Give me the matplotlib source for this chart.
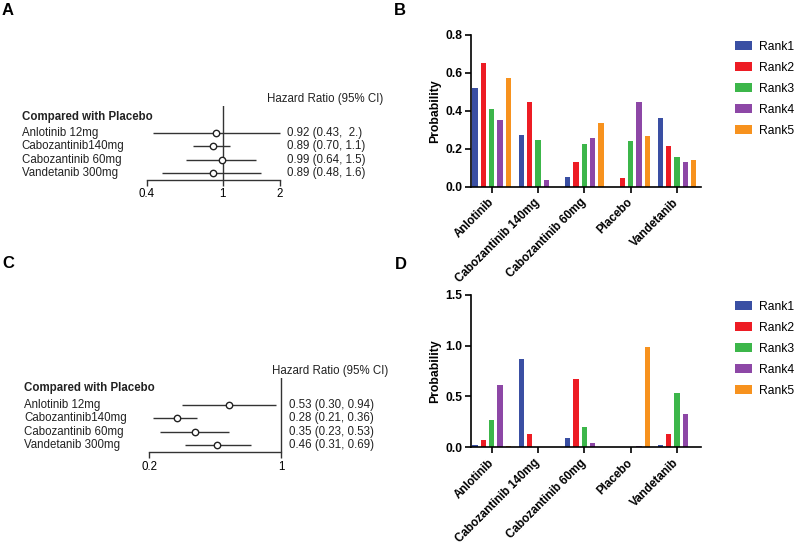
import matplotlib
matplotlib.use("Agg")
import matplotlib.pyplot as plt
import matplotlib.transforms as mtransforms
import numpy as np
from matplotlib.ticker import NullLocator, FixedLocator, FixedFormatter

plt.rcParams['font.family'] = ['Liberation Sans', 'DejaVu Sans']

# ---------------- data ----------------
forest_labels = ['Anlotinib 12mg', 'Cabozantinib140mg', 'Cabozantinib 60mg', 'Vandetanib 300mg']
a_hr = [0.92, 0.89, 0.99, 0.89]
a_lo = [0.43, 0.70, 0.64, 0.48]
a_hi = [2.0, 1.1, 1.5, 1.6]
a_txt = ['0.92 (0.43,  2.)', '0.89 (0.70, 1.1)', '0.99 (0.64, 1.5)', '0.89 (0.48, 1.6)']
a_ticks = [0.4, 1, 2]
a_ticklabels = ['0.4', '1', '2']

c_hr = [0.53, 0.28, 0.35, 0.46]
c_lo = [0.30, 0.21, 0.23, 0.31]
c_hi = [0.94, 0.36, 0.53, 0.69]
c_txt = ['0.53 (0.30, 0.94)', '0.28 (0.21, 0.36)', '0.35 (0.23, 0.53)', '0.46 (0.31, 0.69)']
c_ticks = [0.2, 1]
c_ticklabels = ['0.2', '1']

categories = ['Anlotinib', 'Cabozantinib 140mg', 'Cabozantinib 60mg', 'Placebo', 'Vandetanib']
rank_names = ['Rank1', 'Rank2', 'Rank3', 'Rank4', 'Rank5']
b_rank1 = [0.519, 0.270, 0.049, 0.0, 0.361]
b_rank2 = [0.653, 0.444, 0.130, 0.044, 0.214]
b_rank3 = [0.407, 0.244, 0.225, 0.239, 0.156]
b_rank4 = [0.353, 0.037, 0.258, 0.446, 0.128]
b_rank5 = [0.570, 0.0, 0.335, 0.267, 0.139]

d_rank1 = [0.020, 0.865, 0.088, 0.0, 0.020]
d_rank2 = [0.075, 0.128, 0.668, 0.0, 0.128]
d_rank3 = [0.265, 0.0, 0.200, 0.0, 0.530]
d_rank4 = [0.616, 0.0, 0.046, 0.013, 0.324]
d_rank5 = [0.013, 0.0, 0.0, 0.986, 0.0]

colors = ['#3a4fa3', '#ed1c24', '#3cb64a', '#8d47a6', '#f7921e']

W, H = 800, 545
fig = plt.figure(figsize=(8, 5.45), dpi=100)


def px_axes(x0, y0, x1, y1):
    return fig.add_axes([x0 / W, (H - y1) / H, (x1 - x0) / W, (y1 - y0) / H])


def forest(x_one, px_per_ln, y_top, y_axis, row0, rowstep, hr, lo, hi, txt,
           ticks, ticklabels, label_x, txt_x, head_x, head_y, comp_y):
    ax = px_axes(0, y_top, 400, y_axis)
    ax.set_xscale('log')
    ax.set_xlim(np.exp(-x_one / px_per_ln), np.exp((400 - x_one) / px_per_ln))
    ax.set_ylim((y_axis - row0) / rowstep, (y_top - row0) / rowstep)
    for s in ['top', 'right', 'left']:
        ax.spines[s].set_visible(False)
    ax.spines['bottom'].set_bounds(ticks[0], ticks[-1])
    ax.spines['bottom'].set_linewidth(1.0)
    ax.spines['bottom'].set_color('#333333')
    ax.xaxis.set_minor_locator(NullLocator())
    ax.xaxis.set_major_locator(FixedLocator(ticks))
    ax.xaxis.set_major_formatter(FixedFormatter(ticklabels))
    ax.tick_params(axis='x', direction='out', length=4, width=1.0, color='#333333',
                   labelsize=8.3, pad=2)
    ax.set_yticks([])
    ax.axvline(1, color='#333333', lw=1.0)
    ax.patch.set_visible(False)
    rows = np.arange(len(hr))
    ax.hlines(rows, lo, hi, color='#333333', lw=1.0)
    ax.plot(hr, rows, 'o', ms=4.6, mfc='white', mec='#222222', mew=1.0)
    bt = mtransforms.blended_transform_factory(ax.transAxes, ax.transData)
    for r, (lab, t) in enumerate(zip(forest_labels, txt)):
        ax.text(label_x / 400, r, lab, transform=bt,
                ha='left', va='center', fontsize=8.3, color='#222222')
        ax.text(txt_x / 400, r, t, transform=bt,
                ha='left', va='center', fontsize=8.3, color='#222222')
    ax.text(label_x / 400, (comp_y - row0) / rowstep, 'Compared with Placebo', transform=bt,
            ha='left', va='center', fontsize=8.3, fontweight='bold', color='#222222', clip_on=False)
    ax.text(head_x / 400, (head_y - row0) / rowstep, 'Hazard Ratio (95% CI)', transform=bt,
            ha='left', va='center', fontsize=8.3, color='#222222', clip_on=False)
    return ax


forest(222.5, 82.5, 106, 180, 132.7, 13.55, a_hr, a_lo, a_hi, a_txt,
       a_ticks, a_ticklabels, 21.7, 287, 266.7, 99.3, 116.7)
forest(281, 82.0, 378, 452.3, 405, 13.4, c_hr, c_lo, c_hi, c_txt,
       c_ticks, c_ticklabels, 24, 288.7, 272, 371, 388.3)


def bars(y0, y1, series, ymax, yticks, ytl, leg_y):
    ax = px_axes(470.7, y0, 701, y1)
    x = np.arange(len(categories))
    pitch, width = 0.18, 0.115
    for i, (vals, col, name) in enumerate(zip(series, colors, rank_names)):
        ax.bar(x + (i - 2) * pitch, vals, width=width, color=col, label=name)
    ax.set_xlim(-0.454, 4.52)
    ax.set_ylim(0, ymax)
    ax.set_yticks(yticks)
    ax.set_yticklabels(ytl, fontweight='bold', fontsize=8.7)
    ax.set_xticks(x)
    ax.set_xticklabels(categories, rotation=45, ha='right', va='center',
                       rotation_mode='anchor', fontweight='bold', fontsize=8.4)
    for s in ['top', 'right']:
        ax.spines[s].set_visible(False)
    for s in ['left', 'bottom']:
        ax.spines[s].set_linewidth(1.2)
    ax.tick_params(axis='both', direction='out', length=4, width=1.2, pad=2)
    ax.tick_params(axis='x', pad=6)
    ax.set_ylabel('Probability', fontweight='bold', fontsize=8.8, labelpad=3)
    ax.legend(loc='upper left', bbox_to_anchor=(730 / W, 1 - (leg_y - 9) / H),
              bbox_transform=fig.transFigure,
              frameon=False, fontsize=8.7, handlelength=1.4, handleheight=0.75,
              labelspacing=0.75, handletextpad=0.6, borderaxespad=0)
    return ax


bars(34.7, 186.7, [b_rank1, b_rank2, b_rank3, b_rank4, b_rank5], 0.8,
     [0, 0.2, 0.4, 0.6, 0.8], ['0.0', '0.2', '0.4', '0.6', '0.8'], 44.7)
bars(294.7, 447.3, [d_rank1, d_rank2, d_rank3, d_rank4, d_rank5], 1.5,
     [0, 0.5, 1.0, 1.5], ['0.0', '0.5', '1.0', '1.5'], 305)

for lab, xp, yp in [('A', 2, 3), ('B', 394, 3), ('C', 2, 256), ('D', 395, 257)]:
    fig.text(xp / W, 1 - yp / H, lab, fontsize=12, fontweight='bold', ha='left', va='top')

fig.savefig('out.png', dpi=100)
